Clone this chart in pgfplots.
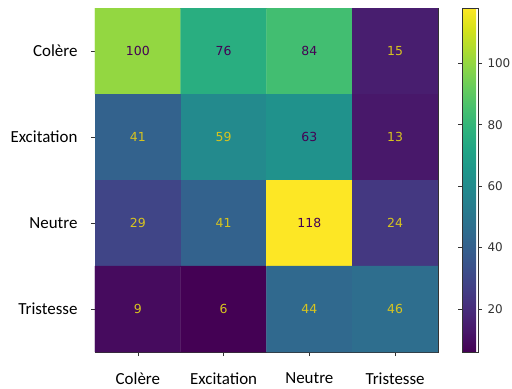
\documentclass[border=0pt]{standalone}
\usepackage{pgfplots}
\pgfplotsset{compat=1.18}
\usepackage{fontspec}
\setmainfont{Carlito}
\newfontfamily\dejavu{DejaVu Sans}
\definecolor{vdark}{HTML}{440154}
\definecolor{vyellow}{HTML}{FDE725}
\definecolor{framec}{HTML}{333333}
\begin{document}
\begin{tikzpicture}
\path[use as bounding box] (-95bp,-37bp) rectangle (417bp,352bp);
\begin{axis}[
  at={(0,0)}, anchor=south west,
  scale only axis, width=343bp, height=344bp,
  xmin=-0.5, xmax=3.5, ymin=-0.5, ymax=3.5,
  y dir=reverse,
  axis line style={framec, line width=0.6pt},
  xtick={0,1,2,3}, ytick={0,1,2,3},
  xticklabels={Colère,Excitation,Neutre,Tristesse},
  yticklabels={Colère,Excitation,Neutre,Tristesse},
  tick align=outside, major tick length=4bp,
  tick style={framec, line width=0.6pt},
  xtick pos=bottom, ytick pos=left,
  ticklabel style={font=\fontsize{17}{19}\selectfont, text=black},
  xticklabel style={yshift=-13bp},
  yticklabel style={xshift=-10bp},
  colormap name=viridis,
  point meta min=6, point meta max=118,
  colorbar,
  colorbar style={
    at={(1.07,1)}, anchor=north west,
    width=16bp,
    ytick={20,40,60,80,100},
    yticklabel style={font=\dejavu\fontsize{12}{14}\selectfont, text=black!80, /pgf/number format/assume math mode=true, xshift=2bp},
    axis line style={framec, line width=0.6pt},
    tick style={framec, line width=0.6pt},
    major tick length=4bp, tick align=outside,
  },
]
\addplot[matrix plot*, mesh/cols=4, point meta=explicit] table[meta=c] {
x y c
0 0 100
1 0 76
2 0 84
3 0 15
0 1 41
1 1 59
2 1 63
3 1 13
0 2 29
1 2 41
2 2 118
3 2 24
0 3 9
1 3 6
2 3 44
3 3 46
};
\addplot[only marks, mark=none, nodes near coords, point meta=explicit symbolic,
  nodes near coords align=center,
  nodes near coords style={font=\dejavu\fontsize{12.5}{14}\selectfont, text=vdark, anchor=center}]
table[meta=c] {
x y c
0 0 100
1 0 76
2 0 84
2 1 63
2 2 118
};
\addplot[only marks, mark=none, nodes near coords, point meta=explicit symbolic,
  nodes near coords align=center,
  nodes near coords style={font=\dejavu\fontsize{12.5}{14}\selectfont, text=vyellow!85!black, anchor=center}]
table[meta=c] {
x y c
3 0 15
0 1 41
1 1 59
3 1 13
0 2 29
1 2 41
3 2 24
0 3 9
1 3 6
2 3 44
3 3 46
};
\end{axis}
\end{tikzpicture}
\end{document}
